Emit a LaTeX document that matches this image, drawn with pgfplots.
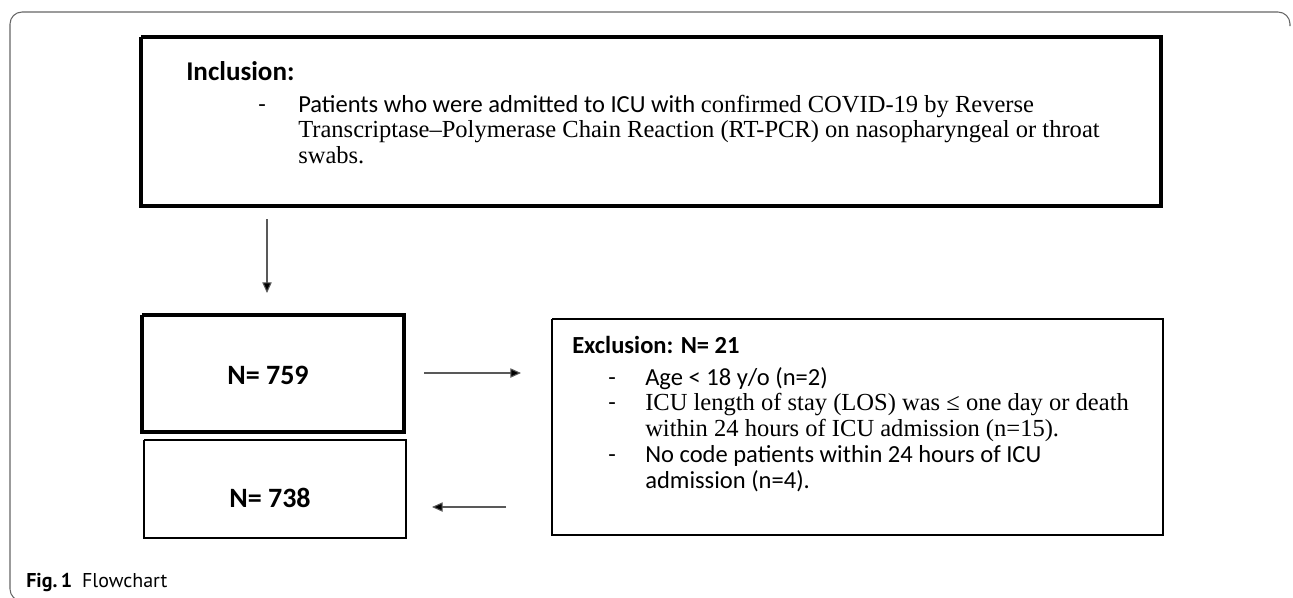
\documentclass[border=0pt]{standalone}
\usepackage{pgfplots}
\pgfplotsset{compat=1.18}
\usepackage{fontspec}
\setmainfont{Liberation Serif}
\newfontfamily\calib{Carlito}
\newfontfamily\capf{PT Sans}
\usetikzlibrary{arrows.meta}
\begin{document}
\begin{tikzpicture}
\begin{axis}[width=969.75pt,height=447.75pt,scale only axis,
  xmin=0,xmax=1293,ymin=0,ymax=597,y dir=reverse,hide axis,clip mode=global]
% outer frame
\draw[gray!80!black, line width=0.8pt, rounded corners=9pt]
  (axis cs:1290,26) -- (axis cs:1290,12) -- (axis cs:10,12) -- (axis cs:10,601) -- (axis cs:26,601);
% boxes
\addplot[black, line width=2.3pt] coordinates {(141,37) (1161,37) (1161,206) (141,206) (141,37)};
\addplot[black, line width=2.3pt] coordinates {(142,315) (404,315) (404,432) (142,432) (142,315)};
\addplot[black, line width=2.0pt] coordinates {(144,440) (406,440) (406,538) (144,538) (144,440)};
\addplot[black, line width=2.0pt] coordinates {(552,319) (1163,319) (1163,535) (552,535) (552,319)};
% arrows
\addplot[gray!70!black, line width=0.8pt, -{Triangle[length=8pt,width=7pt,fill=black]}] coordinates {(267,219) (267,293)};
\addplot[gray!70!black, line width=0.8pt, -{Triangle[length=8pt,width=7pt,fill=black]}] coordinates {(424,373) (521,373)};
\addplot[gray!70!black, line width=0.8pt, -{Triangle[length=8pt,width=7pt,fill=black]}] coordinates {(506,507) (432,507)};
% texts
\node[anchor=base west, inner sep=0] at (axis cs:186,80) {\calib\bfseries\fontsize{20.3}{24}\selectfont Inclusion:};
\node[anchor=base west, inner sep=0] at (axis cs:258,112) {\calib\fontsize{18.4}{22}\selectfont -};
\node[anchor=base west, inner sep=0] at (axis cs:298,112) {\fontsize{18.4}{22}\selectfont{\calib Patients who were admitted to ICU with }confirmed COVID-19 by Reverse};
\node[anchor=base west, inner sep=0] at (axis cs:298,137) {\fontsize{18.4}{22}\selectfont Transcriptase–Polymerase Chain Reaction (RT-PCR) on nasopharyngeal or throat};
\node[anchor=base west, inner sep=0] at (axis cs:298,163) {\fontsize{18.4}{22}\selectfont swabs.};
\node[anchor=center, inner sep=0] at (axis cs:268,375) {\calib\bfseries\fontsize{21}{24}\selectfont N= 759};
\node[anchor=center, inner sep=0] at (axis cs:270,498) {\calib\bfseries\fontsize{21}{24}\selectfont N= 738};
\node[anchor=base west, inner sep=0] at (axis cs:572,353) {\calib\bfseries\fontsize{18.4}{22}\selectfont Exclusion: N= 21};
\node[anchor=base west, inner sep=0] at (axis cs:608,385) {\calib\fontsize{18.4}{22}\selectfont -};
\node[anchor=base west, inner sep=0] at (axis cs:645,385) {\calib\fontsize{18.4}{22}\selectfont Age < 18 y/o (n=2)};
\node[anchor=base west, inner sep=0] at (axis cs:608,410) {\calib\fontsize{18.4}{22}\selectfont -};
\node[anchor=base west, inner sep=0] at (axis cs:645,410) {\fontsize{18.4}{22}\selectfont ICU length of stay (LOS) was ≤ one day or death};
\node[anchor=base west, inner sep=0] at (axis cs:645,436) {\fontsize{18.4}{22}\selectfont within 24 hours of ICU admission (n=15).};
\node[anchor=base west, inner sep=0] at (axis cs:608,462) {\calib\fontsize{18.4}{22}\selectfont -};
\node[anchor=base west, inner sep=0] at (axis cs:645,462) {\calib\fontsize{18.4}{22}\selectfont No code patients within 24 hours of ICU};
\node[anchor=base west, inner sep=0] at (axis cs:645,488) {\calib\fontsize{18.4}{22}\selectfont admission (n=4).};
\node[anchor=base west, inner sep=0] at (axis cs:26,587) {\capf\fontsize{15}{18}\selectfont\textbf{Fig.\,1}\enspace Flowchart};
\end{axis}
\pgfresetboundingbox
\path (current axis.south west) rectangle (current axis.north east);
\end{tikzpicture}
\end{document}
